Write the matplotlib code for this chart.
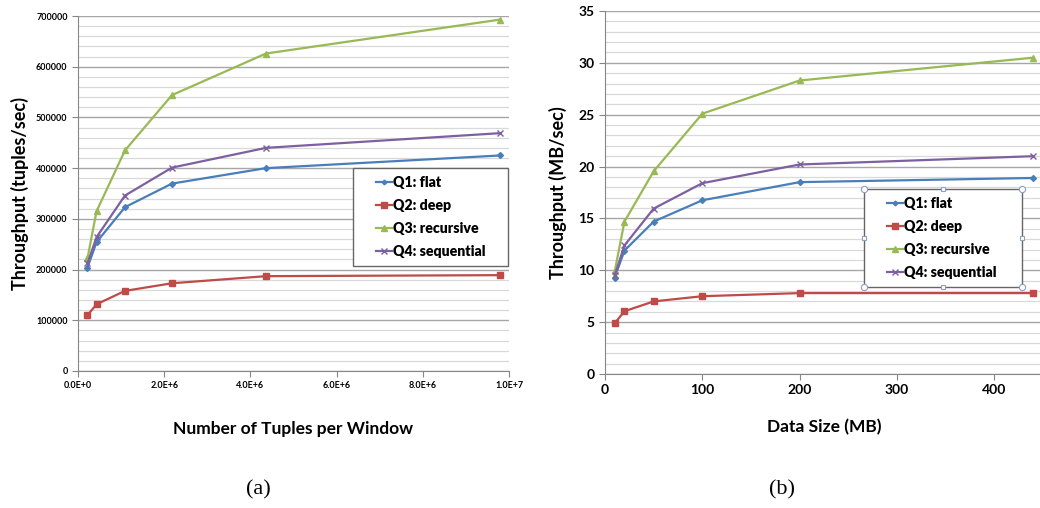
import matplotlib
matplotlib.use('Agg')
import matplotlib.pyplot as plt
from matplotlib.patches import Rectangle
from matplotlib.font_manager import FontProperties
from matplotlib.ticker import MultipleLocator, FuncFormatter

# throughput vs. window size (a) and vs. data size (b)
tuples = [2.2e5, 4.3e5, 1.09e6, 2.18e6, 4.36e6, 9.8e6]
sizes = [10, 20, 50, 100, 200, 440]

names = ['Q1: flat', 'Q2: deep', 'Q3: recursive', 'Q4: sequential']
colors = ['#4A7EBB', '#BE4B48', '#98B954', '#7D60A0']
markers = ['D', 's', '^', 'x']
msizes = [3, 5, 5, 5]

tuples_q1 = [204000, 254000, 323000, 369500, 400000, 425000]
tuples_q2 = [110000, 131500, 158000, 173000, 187000, 189000]
tuples_q3 = [222000, 315000, 435000, 544000, 626000, 693000]
tuples_q4 = [212000, 264000, 346000, 401000, 440000, 469000]

mb_q1 = [9.3, 11.9, 14.7, 16.75, 18.5, 18.9]
mb_q2 = [4.9, 6.05, 7.0, 7.5, 7.8, 7.8]
mb_q3 = [9.9, 14.7, 19.55, 25.1, 28.3, 30.5]
mb_q4 = [9.5, 12.4, 15.95, 18.4, 20.2, 21.0]

W, H = 1040, 508
fig = plt.figure(figsize=(W / 100, H / 100), dpi=100)
font = ['Lato', 'DejaVu Sans']
plt.rcParams['font.family'] = font
legend_font = FontProperties(family='Lato', weight='heavy', size=10.2)


def px(x, y):
    # pixel position (from top-left) -> figure fraction
    return x / W, 1 - y / H


def sci(v, pos):
    if v == 0:
        return '0.0E+0'
    e = len(str(int(v))) - 1
    return '{:.1f}E+{}'.format(v / 10 ** e, e)


def style_axes(ax, major, minor):
    ax.yaxis.set_major_locator(MultipleLocator(major))
    ax.yaxis.set_minor_locator(MultipleLocator(minor))
    ax.grid(which='major', axis='y', color='#a6a6a6', lw=1.0)
    ax.grid(which='minor', axis='y', color='#d9d9d9', lw=0.9)
    ax.set_axisbelow(True)
    for s in ['top', 'right']:
        ax.spines[s].set_visible(False)
    for s in ['left', 'bottom']:
        ax.spines[s].set_color('#868686')
    ax.tick_params(axis='both', which='major', length=4, color='#868686', direction='out')
    ax.tick_params(axis='both', which='minor', length=0)


def add_legend(ax, lines, box):
    # box = (left, top, right, bottom) in pixels
    l, t, r, b = box
    x0, y0 = px(l, b)
    x1, y1 = px(r, t)
    ax.add_patch(Rectangle((x0, y0), x1 - x0, y1 - y0, transform=fig.transFigure,
                           facecolor='white', edgecolor='#666666', lw=1.0,
                           zorder=5, clip_on=False))
    leg = ax.legend(lines, names, loc='center left',
                    bbox_to_anchor=px(l + 23, (t + b) / 2),
                    bbox_transform=fig.transFigure, frameon=False,
                    handlelength=1.15, handletextpad=0.05,
                    labelspacing=0.72, borderpad=0, borderaxespad=0,
                    prop=legend_font)
    leg.set_zorder(6)
    for h in leg.legend_handles:
        h.set_markersize(h.get_markersize() * 0.8)
    return (x0, y0, x1, y1)


# (a) tuples per window
ax1 = fig.add_axes([78 / W, 1 - 371 / H, (509 - 78) / W, (371 - 16) / H])
lines1 = []
for ys, c, m, ms in zip([tuples_q1, tuples_q2, tuples_q3, tuples_q4], colors, markers, msizes):
    ln, = ax1.plot(tuples, ys, color=c, marker=m, ms=ms, lw=1.6, mew=1.0)
    lines1.append(ln)
ax1.set_xlim(0, 1e7)
ax1.set_ylim(0, 700000)
style_axes(ax1, 100000, 20000)
ax1.xaxis.set_major_locator(MultipleLocator(2e6))
ax1.xaxis.set_major_formatter(FuncFormatter(sci))
for lbl in ax1.get_xticklabels() + ax1.get_yticklabels():
    lbl.set_fontsize(6.5)
    lbl.set_fontweight('bold')
ax1.set_ylabel('Throughput (tuples/sec)', fontsize=13, fontweight='bold', labelpad=5)
ax1.set_xlabel('Number of Tuples per Window', fontsize=12.5, fontweight='bold', labelpad=22)
add_legend(ax1, lines1, (353, 168, 508, 266))

# (b) data size
ax2 = fig.add_axes([605 / W, 1 - 374 / H, (1043 - 605) / W, (374 - 11) / H])
lines2 = []
for ys, c, m, ms in zip([mb_q1, mb_q2, mb_q3, mb_q4], colors, markers, msizes):
    ln, = ax2.plot(sizes, ys, color=c, marker=m, ms=ms, lw=1.6, mew=1.0)
    lines2.append(ln)
ax2.set_xlim(0, 450)
ax2.set_ylim(0, 35)
style_axes(ax2, 5, 1)
ax2.xaxis.set_major_locator(MultipleLocator(100))
for lbl in ax2.get_xticklabels() + ax2.get_yticklabels():
    lbl.set_fontsize(10)
    lbl.set_fontweight('bold')
ax2.set_ylabel('Throughput (MB/sec)', fontsize=13, fontweight='bold', labelpad=8)
ax2.set_xlabel('Data Size (MB)', fontsize=12.5, fontweight='bold', labelpad=16)
bx0, by0, bx1, by1 = add_legend(ax2, lines2, (864, 189, 1022, 287))

# selection handles around the second legend box
xs = [bx0, (bx0 + bx1) / 2, bx1]
ys = [by0, (by0 + by1) / 2, by1]
for i, hx in enumerate(xs):
    for j, hy in enumerate(ys):
        if i == 1 and j == 1:
            continue
        corner = i != 1 and j != 1
        fig.lines.append(plt.Line2D([hx], [hy], transform=fig.transFigure,
                                    marker='o' if corner else 's',
                                    ms=4.5 if corner else 3.5, mfc='white',
                                    mec='#8aa1c0', mew=0.8, zorder=10))

# panel captions
fig.text(258 / W, 1 - 490 / H, '(a)', fontsize=16, family='Liberation Serif',
         ha='center', va='center')
fig.text(782 / W, 1 - 490 / H, '(b)', fontsize=16, family='Liberation Serif',
         ha='center', va='center')

fig.savefig('out.png', dpi=100)
